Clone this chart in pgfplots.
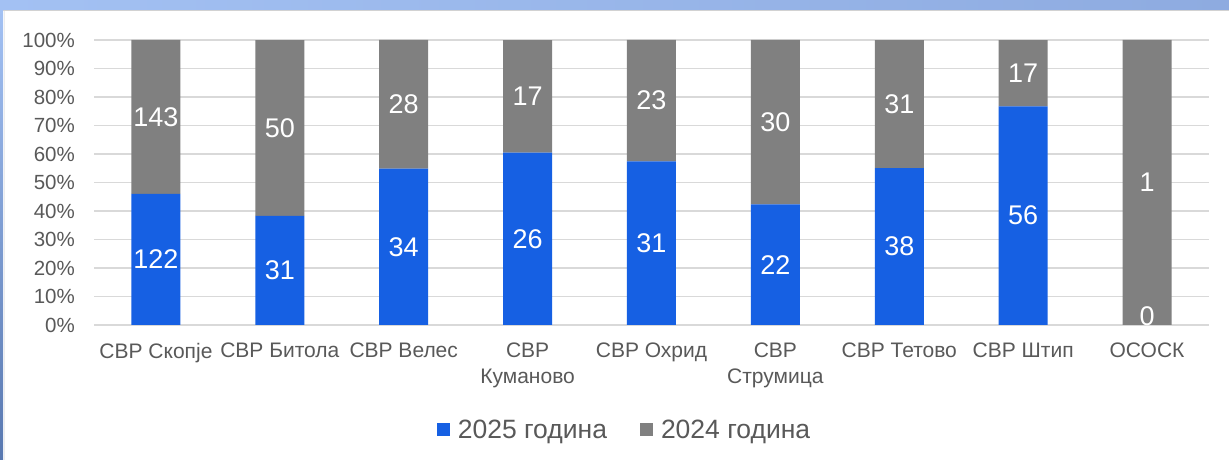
\documentclass[border=0pt]{standalone}
\usepackage{fontspec}
\setmainfont{Liberation Sans}
\usepackage{pgfplots}
\usepackage{pgfplotstable}
\pgfplotsset{compat=1.18}
\definecolor{barblue}{HTML}{1660E3}
\definecolor{bargrey}{HTML}{808080}
\definecolor{txtgrey}{HTML}{595959}
\definecolor{gridgrey}{HTML}{D9D9D9}
\definecolor{bandl}{HTML}{A3C1F3}
\definecolor{bandr}{HTML}{8EABE0}
\pgfplotstableread{
x a b
0 122 143
1 31 50
2 34 28
3 26 17
4 31 23
5 22 30
6 38 31
7 56 17
8 0 1
}\datatable
\begin{document}
\begin{tikzpicture}[x=1pt,y=1pt]
\useasboundingbox (0,0) rectangle (1229,460);
\fill[white] (0,0) rectangle (1229,460);
\shade[left color=bandl, right color=bandr] (0,450) rectangle (1229,460);
\fill[gray!35] (3,448.5) rectangle (1229,450);
\shade[top color=bandl, bottom color={rgb,255:red,88;green,120;blue,176}] (0,0) rectangle (3,450);
\fill[gray!15] (4,0) rectangle (5,448.5);
\begin{axis}[
  at={(94pt,135pt)}, anchor=south west,
  scale only axis, width=1115pt, height=285pt,
  xmin=-0.5, xmax=8.5, ymin=0, ymax=100,
  ybar stacked, bar width=49pt,
  separate axis lines,
  axis x line*=bottom, axis y line*=left,
  x axis line style={gridgrey, line width=1.5pt},
  y axis line style={draw=none},
  major tick length=0pt,
  ytick={0,10,...,100},
  yticklabel={\pgfmathprintnumber{\tick}\%},
  /pgf/number format/assume math mode=true,
  yticklabel style={font=\fontsize{20.5pt}{24pt}\selectfont, text=txtgrey, anchor=east, inner sep=0pt, xshift=-19pt},
  ymajorgrids, grid style={gridgrey, line width=1.5pt},
  xtick={0,...,8},
  xticklabels={СВР Скопје, СВР Битола, СВР Велес, {СВР\\Куманово}, СВР Охрид, {СВР\\Струмица}, СВР Тетово, СВР Штип, ОСОСК},
  xticklabel style={font=\fontsize{21pt}{26pt}\selectfont, text=txtgrey, align=center, anchor=north, inner sep=0pt, yshift=-18pt},
  legend style={at={(0.4758,-0.368)}, anchor=center, draw=none, fill=none,
    legend columns=2, font=\fontsize{26.5pt}{28pt}\selectfont, text=txtgrey,
    /tikz/every odd column/.append style={column sep=6pt},
    /tikz/every even column/.append style={column sep=31pt},
    inner sep=0pt},
  legend image code/.code={\path[#1] (0pt,-6.5pt) rectangle (13pt,6.5pt);},
  legend cell align=left,
]
\addplot[fill=barblue, draw=none] table[x=x, y expr={100*\thisrow{a}/(\thisrow{a}+\thisrow{b})}] {\datatable};
\addplot[fill=bargrey, draw=none] table[x=x, y expr={100*\thisrow{b}/(\thisrow{a}+\thisrow{b})}] {\datatable};
\legend{2025 година, 2024 година}
\end{axis}
\begin{axis}[
  at={(94pt,135pt)}, anchor=south west,
  scale only axis, width=1115pt, height=285pt,
  xmin=-0.5, xmax=8.5, ymin=0, ymax=100,
  hide axis, clip=false,
  nodes near coords, point meta=explicit symbolic,
  nodes near coords align=center,
  every node near coord/.append style={font=\fontsize{27pt}{30pt}\selectfont, text=white, anchor=center, inner sep=0pt},
]
\addplot[only marks, mark size=0pt, draw=none] table[x=x, y expr={max(50*\thisrow{a}/(\thisrow{a}+\thisrow{b}),3.2)}, meta=a] {\datatable};
\addplot[only marks, mark size=0pt, draw=none] table[x=x, y expr={100*\thisrow{a}/(\thisrow{a}+\thisrow{b})+50*\thisrow{b}/(\thisrow{a}+\thisrow{b})}, meta=b] {\datatable};
\end{axis}
\end{tikzpicture}
\end{document}
